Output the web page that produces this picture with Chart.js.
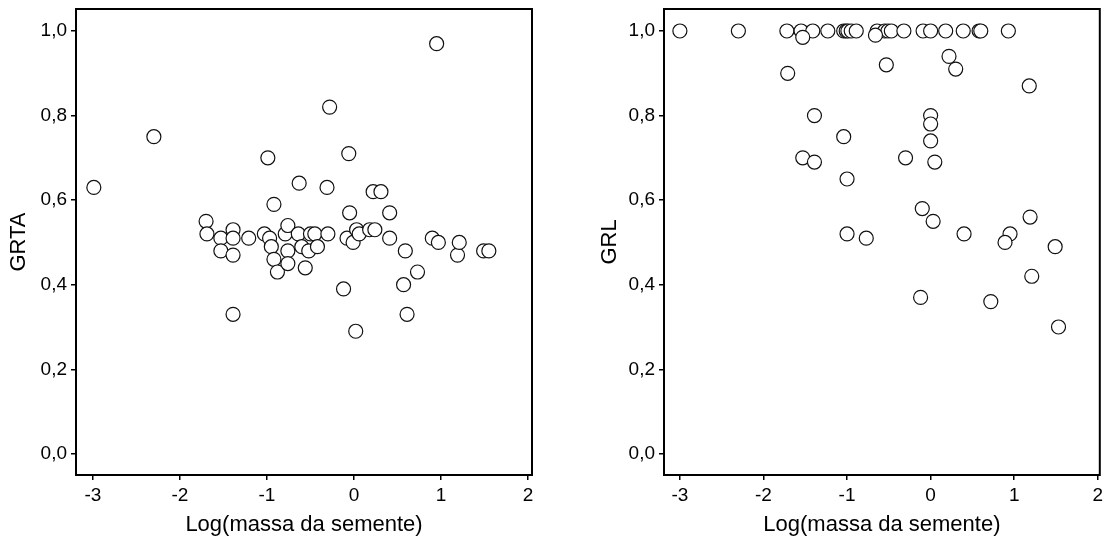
<!DOCTYPE html>
<html>
<head>
<meta charset="utf-8">
<title>GRTA e GRL x massa da semente</title>
<script src="https://cdn.jsdelivr.net/npm/chart.js"></script>
<style>
  body { margin: 0; background: #fff; }
  #wrap { position: relative; width: 1108px; height: 542px; }
  canvas { position: absolute; top: 0; }
  #grtaChart { left: 0; }
  #grlChart { left: 554px; }
</style>
</head>
<body>
<div id="wrap">
  <canvas id="grtaChart" width="554" height="542"></canvas>
  <canvas id="grlChart" width="554" height="542"></canvas>
</div>

<script>
  // valores (painel da esquerda: GRTA)
  const grtaX = [-2.99, -2.30, -1.70, -1.69, -1.53, -1.53, -1.39, -1.39, -1.39, -1.39,
                 -1.21, -1.03, -0.99, -0.97, -0.95, -0.92, -0.92, -0.88, -0.79, -0.76,
                 -0.76, -0.76, -0.64, -0.63, -0.60, -0.56, -0.52, -0.50, -0.45, -0.42,
                 -0.30, -0.31, -0.28, -0.12, -0.08, -0.06, -0.05, -0.01, 0.02, 0.03,
                 0.06, 0.18, 0.24, 0.22, 0.31, 0.41, 0.41, 0.57, 0.59, 0.61,
                 0.73, 0.90, 0.95, 0.97, 1.19, 1.21, 1.49, 1.55];
  const grtaY = [0.63, 0.75, 0.55, 0.52, 0.51, 0.48, 0.53, 0.51, 0.47, 0.33,
                 0.51, 0.52, 0.70, 0.51, 0.49, 0.59, 0.46, 0.43, 0.52, 0.54,
                 0.48, 0.45, 0.52, 0.64, 0.49, 0.44, 0.48, 0.52, 0.52, 0.49,
                 0.52, 0.63, 0.82, 0.39, 0.51, 0.71, 0.57, 0.50, 0.29, 0.53,
                 0.52, 0.53, 0.53, 0.62, 0.62, 0.57, 0.51, 0.40, 0.48, 0.33,
                 0.43, 0.51, 0.97, 0.50, 0.47, 0.50, 0.48, 0.48];

  // painel da direita: GRL
  const grlX = [-3.00, -2.30, -1.72, -1.55, -1.41, -1.23, -1.04, -1.01, -0.99, -0.95,
                -0.89, -0.64, -0.55, -0.51, -0.47, -0.32, -0.09, 0.00, 0.18, 0.39,
                0.58, 0.60, 0.93, -1.53, -0.66,
                -1.71, -0.53, 0.22, 0.30, 1.18,
                -1.39, 0.00, 0.00, 0.00, -1.04, -1.53, -1.39, -0.30, 0.05, -1.00,
                -0.10, 0.03, 1.19, -1.00, -0.77, 0.40, 0.95, 0.89, 1.49, 1.21,
                -0.12, 0.72, 1.53];
  const grlY = [1.00, 1.00, 1.00, 1.00, 1.00, 1.00, 1.00, 1.00, 1.00, 1.00,
                1.00, 1.00, 1.00, 1.00, 1.00, 1.00, 1.00, 1.00, 1.00, 1.00,
                1.00, 1.00, 1.00, 0.985, 0.99,
                0.90, 0.92, 0.94, 0.91, 0.87,
                0.80, 0.80, 0.78, 0.74, 0.75, 0.70, 0.69, 0.70, 0.69, 0.65,
                0.58, 0.55, 0.56, 0.52, 0.51, 0.52, 0.52, 0.50, 0.49, 0.42,
                0.37, 0.36, 0.30];

  const xTicks = [-3, -2, -1, 0, 1, 2];
  const yTicks = [0, 0.2, 0.4, 0.6, 0.8, 1.0];
  const xTitle = 'Log(massa da semente)';

  const fontFamily = '"Liberation Sans", Arial, sans-serif';

  // moldura em volta da área do gráfico
  const framePlugin = {
    id: 'frame',
    afterDraw(chart) {
      const { ctx, chartArea: a } = chart;
      ctx.save();
      ctx.strokeStyle = '#000';
      ctx.lineWidth = 2;
      ctx.strokeRect(a.left, a.top, a.right - a.left, a.bottom - a.top);
      ctx.restore();
    }
  };

  function makeChart(id, xs, ys, yTitle, o) {
    const points = xs.map((x, i) => ({ x: x, y: ys[i] }));
    return new Chart(document.getElementById(id), {
      type: 'scatter',
      data: {
        datasets: [{
          data: points,
          pointRadius: 7,
          pointHoverRadius: 7,
          backgroundColor: '#fff',
          borderColor: '#111',
          borderWidth: 1.2
        }]
      },
      options: {
        responsive: false,
        animation: false,
        layout: { padding: { top: 9, right: o.padRight, left: 0, bottom: 0 } },
        plugins: { legend: { display: false }, tooltip: { enabled: false } },
        scales: {
          x: {
            type: 'linear',
            min: o.xMin,
            max: o.xMax,
            afterBuildTicks: s => { s.ticks = xTicks.map(v => ({ value: v })); },
            afterFit: s => { s.height = 67; s.paddingLeft = 0; s.paddingRight = 0; },
            grid: { drawOnChartArea: false, drawTicks: true, tickLength: 5, color: '#000', lineWidth: 1.5 },
            border: { display: false },
            ticks: { color: '#000', font: { family: fontFamily, size: 19 }, padding: 4, maxRotation: 0,
                     callback: v => String(v) },
            title: { display: true, text: xTitle, color: '#000',
                     font: { family: fontFamily, size: 22 }, padding: { top: 0, bottom: 4 } }
          },
          y: {
            type: 'linear',
            min: -0.05,
            max: 1.052,
            afterBuildTicks: s => { s.ticks = yTicks.map(v => ({ value: v })); },
            afterFit: s => { s.width = o.yWidth; s.paddingTop = 0; s.paddingBottom = 0; },
            grid: { drawOnChartArea: false, drawTicks: true, tickLength: 5, color: '#000', lineWidth: 1.5 },
            border: { display: false },
            ticks: { color: '#000', font: { family: fontFamily, size: 19 }, padding: 4,
                     callback: v => v.toFixed(1).replace('.', ',') },
            title: { display: true, text: yTitle, color: '#000',
                     font: { family: fontFamily, size: 22 }, padding: { top: o.yTitlePad, bottom: 0 } }
          }
        }
      },
      plugins: [framePlugin]
    });
  }

  makeChart('grtaChart', grtaX, grtaY, 'GRTA',
            { xMin: -3.195, xMax: 2.046, padRight: 22, yWidth: 76, yTitlePad: 6 });
  makeChart('grlChart', grlX, grlY, 'GRL',
            { xMin: -3.19, xMax: 2.024, padRight: 4, yWidth: 110, yTitlePad: 43 });
</script>
</body>
</html>
